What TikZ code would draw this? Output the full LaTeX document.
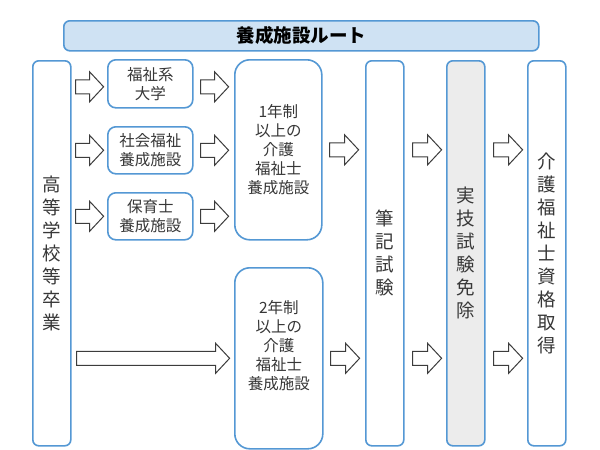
\documentclass[tikz,border=0pt]{standalone}
\usepackage{fontspec}
\setmainfont{Noto Sans CJK JP}
\usetikzlibrary{calc}
\definecolor{boxblue}{RGB}{84,152,212}
\definecolor{titlefill}{RGB}{207,226,243}
\definecolor{grayfill}{RGB}{236,236,236}
\definecolor{arrowgray}{RGB}{60,60,60}
\definecolor{txt}{RGB}{55,55,55}
\tikzset{
  box/.style={draw=boxblue, line width=1.6pt, rounded corners=#1, fill=white,
    inner sep=0pt, anchor=north west, align=center, text=txt},
  box/.default=7pt,
  label15/.style={font=\fontsize{15.5}{19}\selectfont},
  vlabel/.style={font=\fontsize{18.5}{23}\selectfont},
  arrowline/.style={draw=arrowgray, line width=1pt, fill=white, line join=miter},
  pics/barrow/.style={code={
    \draw[arrowline] (0,-7) -- ({#1-14},-7) -- ({#1-14},-15) -- (#1,0)
      -- ({#1-14},15) -- ({#1-14},7) -- (0,7) -- cycle;}}
}
\begin{document}
\begin{tikzpicture}[x=1pt,y=-1pt]
\useasboundingbox[fill=white] (0,0) rectangle (600,450);
% title
\node[box=6pt, fill=titlefill, minimum width=475, minimum height=30, text=black,
  font=\fontsize{18.5}{20}\selectfont\bfseries] (title) at (63,20) {養成施設ルート};
% left column
\node[box=6pt, vlabel, minimum width=38, minimum height=385] (hs) at (32,60)
  {高\\等\\学\\校\\等\\卒\\業};
% small boxes
\node[box=8pt, label15, minimum width=85, minimum height=48] (s1) at (107,59) {福祉系\\大学};
\node[box=8pt, label15, minimum width=85, minimum height=47] (s2) at (107,126) {社会福祉\\養成施設};
\node[box=8pt, label15, minimum width=85, minimum height=47] (s3) at (107,192) {保育士\\養成施設};
% facilities
\node[box=15pt, label15, minimum width=87, minimum height=180] (y1) at (234,59)
  {1年制\\以上の\\介護\\福祉士\\養成施設};
\node[box=15pt, label15, minimum width=88, minimum height=181] (y2) at (234,267)
  {2年制\\以上の\\介護\\福祉士\\養成施設\\[8pt]};
% exam columns
\node[box=6pt, vlabel, minimum width=38, minimum height=385] (ex) at (365,60)
  {筆\\記\\試\\験};
\node[box=6pt, vlabel, fill=grayfill, minimum width=38, minimum height=385] (ji) at (446,60)
  {実\\技\\試\\験\\免\\除};
\node[box=6pt, vlabel, minimum width=38, minimum height=385] (qu) at (527,60)
  {介\\護\\福\\祉\\士\\資\\格\\取\\得};
% row coordinates
\coordinate (r1) at ($(s1.center)+(0,3)$);
\coordinate (r2) at (s2.center);
\coordinate (r3) at (s3.center);
\coordinate (ru) at (y1.center);
\coordinate (rl) at ($(y2.center)+(0,0)$);
% arrows
\foreach \r in {r1,r2,r3}{
  \pic at ($(hs.east |- \r)+(4,0)$) {barrow=28};
  \pic at ($(s1.east |- \r)+(7,0)$) {barrow=28};
}
\pic at ($(y1.east |- ru)+(7,0)$) {barrow=29};
\pic at ($(ex.east |- ru)+(8,0)$) {barrow=29};
\pic at ($(ji.east |- ru)+(8,0)$) {barrow=29};
\pic at ($(hs.east |- rl)+(5,0)$) {barrow=153};
\pic at ($(y2.east |- rl)+(7,0)$) {barrow=29};
\pic at ($(ex.east |- rl)+(8,0)$) {barrow=29};
\pic at ($(ji.east |- rl)+(8,0)$) {barrow=29};
\end{tikzpicture}
\end{document}
